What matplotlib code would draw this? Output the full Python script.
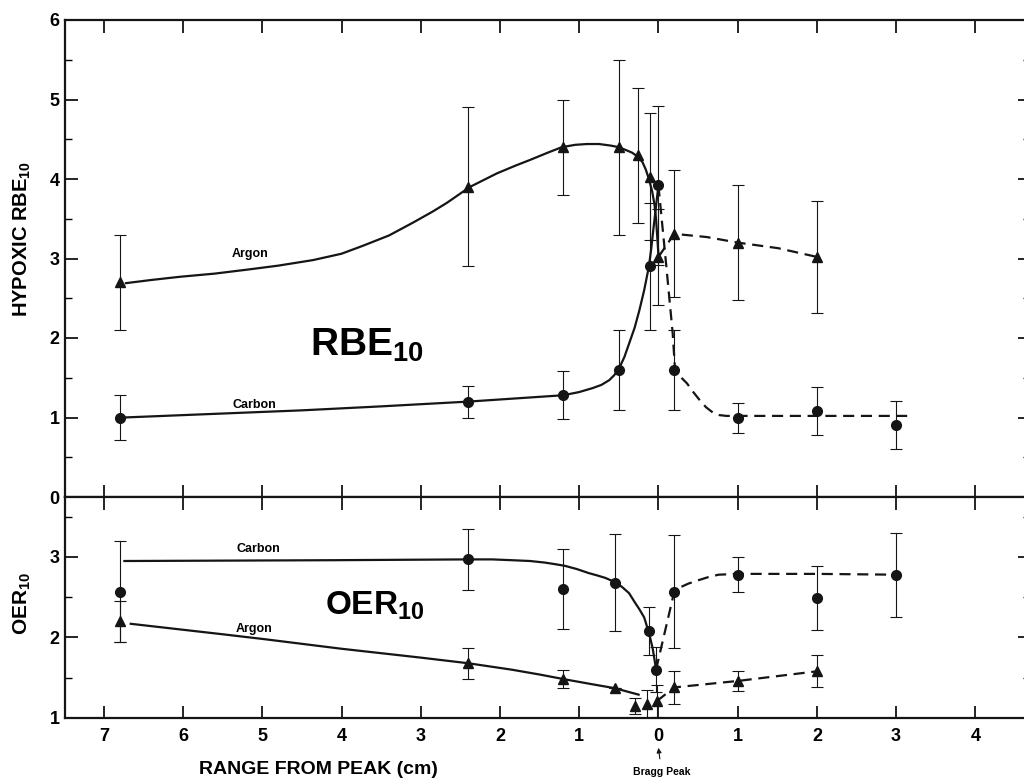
import matplotlib
matplotlib.use("Agg")
import matplotlib.pyplot as plt
from matplotlib import font_manager
from matplotlib.ticker import FuncFormatter, MultipleLocator

# distance from the Bragg peak in cm (negative = before the peak)
# ---- hypoxic RBE10, measured points ----
argon_rbe_x = [-6.8, -2.4, -1.2, -0.5, -0.26, -0.1, 0.0, 0.2, 1.0, 2.0]
argon_rbe = [2.70, 3.90, 4.40, 4.40, 4.30, 4.03, 3.02, 3.31, 3.20, 3.02]
argon_rbe_err = [0.60, 1.00, 0.60, 1.10, 0.85, 0.80, 0.60, 0.80, 0.72, 0.70]

carbon_rbe_x = [-6.8, -2.4, -1.2, -0.5, -0.1, 0.0, 0.2, 1.0, 2.0, 3.0]
carbon_rbe = [1.00, 1.20, 1.28, 1.60, 2.90, 3.92, 1.60, 0.99, 1.08, 0.91]
carbon_rbe_err = [0.28, 0.20, 0.30, 0.50, 0.80, 1.00, 0.50, 0.19, 0.30, 0.30]

# hand-drawn guide curves (solid before the peak, dashed after)
argon_rbe_fit_x = [-6.72, -6.4, -6.04, -5.6, -5.19, -4.8, -4.36, -4.0, -3.73, -3.4,
                   -3.10, -2.85, -2.67, -2.38, -2.2, -2.04, -1.8, -1.62, -1.4, -1.22,
                   -1.05, -0.90, -0.75, -0.60, -0.50, -0.40, -0.33, -0.26, -0.20,
                   -0.16, -0.12, -0.08, -0.05, -0.03, 0.0]
argon_rbe_fit = [2.69, 2.73, 2.77, 2.81, 2.86, 2.91, 2.98, 3.06, 3.16, 3.29,
                 3.45, 3.59, 3.70, 3.90, 3.99, 4.07, 4.17, 4.24, 4.33, 4.40,
                 4.43, 4.44, 4.44, 4.42, 4.40, 4.36, 4.33, 4.28, 4.21,
                 4.12, 4.00, 3.85, 3.68, 3.50, 3.05]
argon_rbe_tail_x = [0.0, 0.2, 0.61, 1.0, 1.51, 2.0]
argon_rbe_tail = [3.02, 3.31, 3.27, 3.20, 3.13, 3.02]

carbon_rbe_fit_x = [-6.75, -5.5, -4.5, -3.5, -2.4, -1.8, -1.2, -1.0, -0.83, -0.72,
                    -0.62, -0.56, -0.5, -0.43, -0.37, -0.30, -0.24, -0.18, -0.12,
                    -0.09, -0.06, -0.03, 0.0]
carbon_rbe_fit = [1.00, 1.05, 1.09, 1.14, 1.20, 1.24, 1.28, 1.32, 1.37, 1.41,
                  1.47, 1.53, 1.61, 1.76, 1.93, 2.13, 2.35, 2.60, 2.90,
                  3.13, 3.40, 3.66, 3.92]
carbon_rbe_tail_x = [0.0, 0.1, 0.18, 0.21, 0.28, 0.36, 0.44, 0.52, 0.60, 0.69,
                     0.77, 0.86, 1.5, 2.5, 3.14]
carbon_rbe_tail = [3.92, 2.90, 2.06, 1.60, 1.51, 1.43, 1.32, 1.22, 1.13, 1.06,
                   1.03, 1.02, 1.02, 1.02, 1.02]

# ---- OER10, measured points ----
carbon_oer_x = [-6.8, -2.4, -1.2, -0.55, -0.12, -0.03, 0.2, 1.0, 2.0, 3.0]
carbon_oer = [2.57, 2.97, 2.60, 2.68, 2.08, 1.60, 2.57, 2.78, 2.49, 2.78]
carbon_oer_err = [0.63, 0.38, 0.50, 0.60, 0.30, 0.28, 0.70, 0.22, 0.40, 0.52]

argon_oer_x = [-6.8, -2.4, -1.2, -0.55, -0.3, -0.15, -0.02, 0.2, 1.0, 2.0]
argon_oer = [2.20, 1.68, 1.48, 1.37, 1.15, 1.17, 1.21, 1.38, 1.46, 1.58]
argon_oer_err = [0.25, 0.19, 0.11, 0.0, 0.10, 0.18, 0.20, 0.20, 0.12, 0.20]

carbon_oer_fit_x = [-6.74, -4.11, -2.4, -2.1, -1.85, -1.62, -1.43, -1.30, -1.18,
                    -1.03, -0.88, -0.77, -0.67, -0.60, -0.53, -0.45, -0.37, -0.30,
                    -0.24, -0.18, -0.13, -0.10, -0.07, -0.05, -0.03]
carbon_oer_fit = [2.95, 2.96, 2.97, 2.97, 2.96, 2.95, 2.93, 2.91, 2.89,
                  2.85, 2.80, 2.77, 2.74, 2.71, 2.68, 2.62, 2.55, 2.44,
                  2.35, 2.25, 2.09, 1.98, 1.85, 1.73, 1.60]
carbon_oer_tail_x = [-0.03, 0.2, 0.29, 0.38, 0.5, 0.63, 0.76, 1.0, 2.0, 3.0]
carbon_oer_tail = [1.60, 2.57, 2.63, 2.67, 2.71, 2.75, 2.78, 2.79, 2.79, 2.78]

argon_oer_fit_x = [-6.66, -5.5, -4.98, -4.0, -3.0, -2.4, -1.85, -1.50, -1.18, -0.84,
                   -0.55, -0.40, -0.25]
argon_oer_fit = [2.17, 2.04, 1.98, 1.86, 1.75, 1.68, 1.60, 1.54, 1.48, 1.42,
                 1.37, 1.33, 1.29]
argon_oer_tail_x = [-0.02, 0.2, 1.0, 2.0]
argon_oer_tail = [1.21, 1.38, 1.46, 1.58]

rbe_ticks = [0, 1, 2, 3, 4, 5, 6]
oer_ticks = [1, 2, 3]
range_ticks = [-7, -6, -5, -4, -3, -2, -1, 0, 1, 2, 3, 4]

names = {f.name for f in font_manager.fontManager.ttflist}
family = "Liberation Sans Narrow" if "Liberation Sans Narrow" in names else "Liberation Sans"
plt.rcParams["font.family"] = [family, "DejaVu Sans"]
plt.rcParams["font.weight"] = "bold"
plt.rcParams["axes.labelweight"] = "bold"
plt.rcParams["mathtext.fontset"] = "custom"
plt.rcParams["mathtext.rm"] = family + ":bold"
plt.rcParams["mathtext.bf"] = family + ":bold"
plt.rcParams["mathtext.it"] = family + ":bold"

ink = "#151515"
W, H = 1024, 782
fig = plt.figure(figsize=(W / 100, H / 100), dpi=100)
ax1 = fig.add_axes([65 / W, (H - 497) / H, (1030 - 65) / W, (497 - 20) / H])
ax2 = fig.add_axes([65 / W, (H - 718) / H, (1030 - 65) / W, (718 - 497) / H])

xlim = (-7.49, 4.69)
solid = dict(color=ink, lw=1.6, zorder=2)
dashed = dict(color=ink, lw=1.6, ls=(0, (5, 3)), zorder=2)
ebar = dict(fmt="none", ecolor=ink, elinewidth=0.8, capsize=4, capthick=0.8, zorder=3)

# upper panel: hypoxic RBE
ax1.plot(argon_rbe_fit_x, argon_rbe_fit, **solid)
ax1.plot(argon_rbe_tail_x, argon_rbe_tail, **dashed)
ax1.plot(carbon_rbe_fit_x, carbon_rbe_fit, **solid)
ax1.plot(carbon_rbe_tail_x, carbon_rbe_tail, **dashed)
ax1.errorbar(argon_rbe_x, argon_rbe, yerr=argon_rbe_err, **ebar)
ax1.errorbar(carbon_rbe_x, carbon_rbe, yerr=carbon_rbe_err, **ebar)
ax1.plot(argon_rbe_x, argon_rbe, "^", color=ink, ms=7, zorder=4)
ax1.plot(carbon_rbe_x, carbon_rbe, "o", color=ink, ms=7, zorder=4)

ax1.text(-5.15, 2.98, "Argon", fontsize=9, ha="center", va="bottom")
ax1.text(-5.1, 1.08, "Carbon", fontsize=9, ha="center", va="bottom")
ax1.text(-4.40, 1.78, r"RBE$_{10}$", fontsize=28, ha="left", va="baseline")

ax1.set_xlim(*xlim)
ax1.set_ylim(0, 6)
ax1.set_yticks(rbe_ticks)
ax1.yaxis.set_minor_locator(MultipleLocator(0.5))
ax1.set_xticks(range_ticks)
ax1.tick_params(axis="x", which="both", direction="in", top=True, bottom=True,
                labelbottom=False, length=9, width=1.2)
ax1.set_ylabel(r"HYPOXIC RBE$_{10}$", fontsize=14.5)
ax1.yaxis.set_label_coords(-0.033, 0.54)

# lower panel: OER
ax2.plot(carbon_oer_fit_x, carbon_oer_fit, **solid)
ax2.plot(carbon_oer_tail_x, carbon_oer_tail, **dashed)
ax2.plot(argon_oer_fit_x, argon_oer_fit, **solid)
ax2.plot(argon_oer_tail_x, argon_oer_tail, **dashed)
ax2.errorbar(carbon_oer_x, carbon_oer, yerr=carbon_oer_err, **ebar)
ax2.errorbar(argon_oer_x, argon_oer, yerr=argon_oer_err, **ebar)
ax2.plot(carbon_oer_x, carbon_oer, "o", color=ink, ms=7, zorder=4)
ax2.plot(argon_oer_x, argon_oer, "^", color=ink, ms=7, zorder=4)

ax2.text(-5.05, 3.03, "Carbon", fontsize=9, ha="center", va="bottom")
ax2.text(-5.1, 2.03, "Argon", fontsize=9, ha="center", va="bottom")
ax2.text(-4.21, 2.28, r"OER$_{10}$", fontsize=24, ha="left", va="baseline")

ax2.set_xlim(*xlim)
ax2.set_ylim(1, 3.745)
ax2.set_yticks(oer_ticks)
ax2.set_yticks([1.5, 2.5, 3.5], minor=True)
ax2.set_xticks(range_ticks)
ax2.xaxis.set_major_formatter(FuncFormatter(lambda v, p: f"{abs(v):g}"))
ax2.tick_params(axis="x", which="both", direction="in", top=True, bottom=True,
                length=9, width=1.2, pad=7, labelsize=13)
ax2.set_ylabel(r"OER$_{10}$", fontsize=15)
ax2.yaxis.set_label_coords(-0.033, 0.52)

ax2.text(-4.29, -0.235, "RANGE FROM PEAK (cm)", fontsize=14, ha="center", va="center",
         transform=ax2.get_xaxis_transform())
ax2.annotate("Bragg Peak", xy=(0, -0.135), xycoords=ax2.get_xaxis_transform(),
             xytext=(0.04, -0.245), textcoords=ax2.get_xaxis_transform(),
             fontsize=7.5, ha="center", va="center",
             arrowprops=dict(arrowstyle="-|>", color=ink, lw=0.8, mutation_scale=7,
                             shrinkA=4, shrinkB=0))

for ax in (ax1, ax2):
    ax.tick_params(axis="y", which="major", direction="in", left=True, right=True,
                   length=9, width=1.2, pad=4, labelsize=13)
    ax.tick_params(axis="y", which="minor", direction="in", left=True, right=True,
                   length=5, width=1.0)
    for s in ax.spines.values():
        s.set_linewidth(1.6)
        s.set_color(ink)

fig.savefig("out.png", dpi=100, facecolor="white")
